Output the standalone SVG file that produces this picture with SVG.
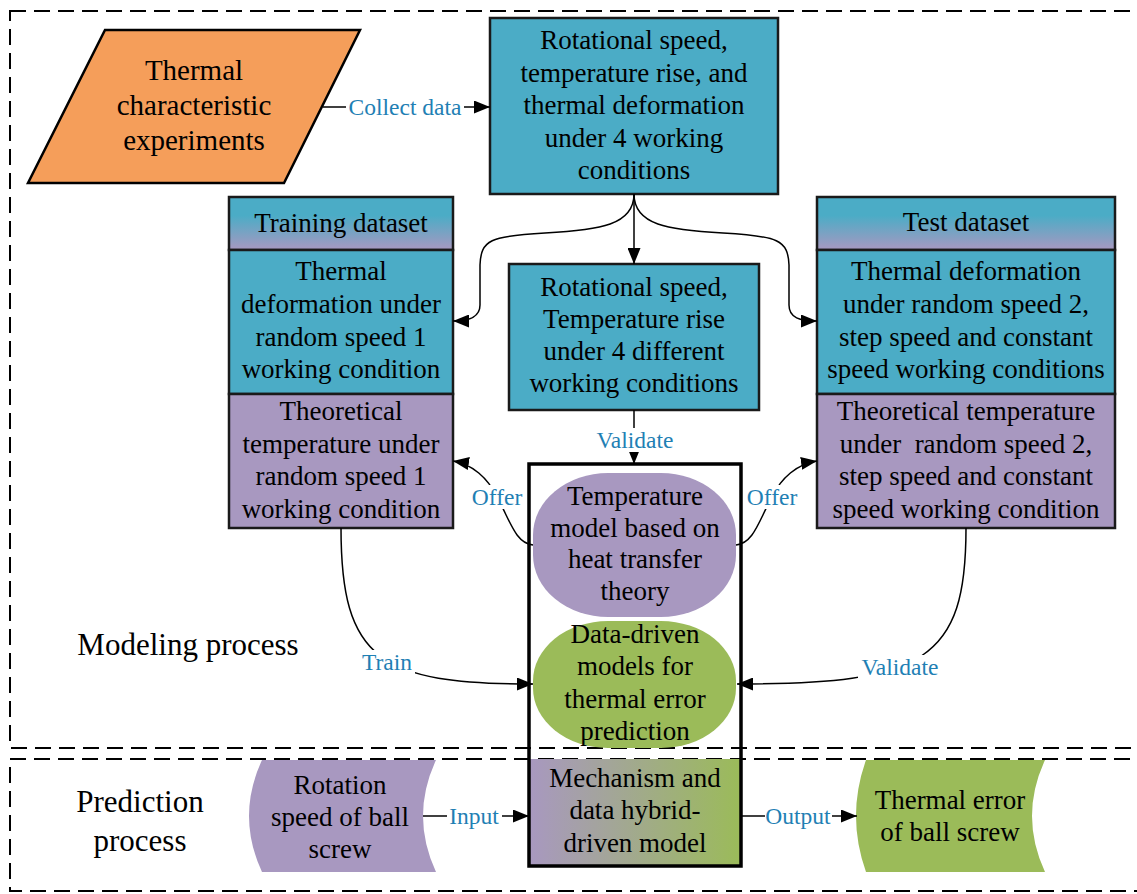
<svg xmlns="http://www.w3.org/2000/svg" width="1137" height="894" viewBox="0 0 1137 894">
<defs>
<style>
.t{font-family:"Liberation Serif","Times New Roman",serif;font-size:27px;fill:#000;text-anchor:middle}
.big{font-size:29px}
.sec{font-family:"Liberation Serif","Times New Roman",serif;font-size:31px;fill:#000;text-anchor:middle}
.lb{font-family:"Liberation Serif","Times New Roman",serif;font-size:23.5px;fill:#1F80B4;text-anchor:middle}
.box{stroke:#1a1a1a;stroke-width:2.5}
.teal{fill:#4BACC6}
.purple{fill:#A898C0}
.green{fill:#9BBB59}
.dash{fill:none;stroke:#000;stroke-width:2;stroke-dasharray:16 8}
.con{fill:none;stroke:#000;stroke-width:1.5}
.bg{fill:#fff}
</style>
<linearGradient id="hdr" x1="0" y1="0" x2="0" y2="1">
<stop offset="0" stop-color="#4BACC6"/>
<stop offset="0.35" stop-color="#4BACC6"/>
<stop offset="1" stop-color="#A898C0"/>
</linearGradient>
<linearGradient id="mix" x1="0" y1="0" x2="1" y2="0">
<stop offset="0" stop-color="#A898C0"/>
<stop offset="1" stop-color="#9BBB59"/>
</linearGradient>
<marker id="ah" viewBox="0 0 16 13" refX="16" refY="6.5" markerWidth="16" markerHeight="13" markerUnits="userSpaceOnUse" orient="auto">
<path d="M0,0 L16,6.5 L0,13 Z" fill="#000"/>
</marker>
</defs>
<rect width="1137" height="894" fill="#fff"/>

<g id="regions">
<rect class="dash" x="10" y="11" width="1140" height="737"/>
<rect class="dash" x="10" y="759" width="1140" height="132"/>
<text class="sec" x="188" y="655">Modeling process</text>
<text class="sec" x="140" y="812">Prediction</text>
<text class="sec" x="140" y="851">process</text>
</g>

<g id="experiments">
<path d="M105,30 L360,30 L284,183 L28,183 Z" fill="#F59E5A" stroke="#000" stroke-width="2.5"/>
<text class="t big" x="194" y="80">Thermal</text>
<text class="t big" x="194" y="115">characteristic</text>
<text class="t big" x="194" y="150">experiments</text>
</g>

<g id="all-data">
<rect class="box teal" x="490" y="18" width="288" height="176"/>
<text class="t" x="634" y="49">Rotational speed,</text>
<text class="t" x="634" y="81.5">temperature rise, and</text>
<text class="t" x="634" y="114">thermal deformation</text>
<text class="t" x="634" y="146.5">under 4 working</text>
<text class="t" x="634" y="179">conditions</text>
</g>

<g id="training">
<rect class="box" x="229" y="197" width="224" height="53" fill="url(#hdr)"/>
<rect class="box teal" x="229" y="250" width="224" height="144"/>
<rect class="box purple" x="229" y="394" width="224" height="134"/>
<text class="t" x="341" y="232">Training dataset</text>
<text class="t" x="341" y="280">Thermal</text>
<text class="t" x="341" y="313">deformation under</text>
<text class="t" x="341" y="346">random speed 1</text>
<text class="t" x="341" y="378">working condition</text>
<text class="t" x="341" y="420">Theoretical</text>
<text class="t" x="341" y="453">temperature under</text>
<text class="t" x="341" y="485">random speed 1</text>
<text class="t" x="341" y="518">working condition</text>
</g>

<g id="test">
<rect class="box" x="817" y="197" width="298" height="53" fill="url(#hdr)"/>
<rect class="box teal" x="817" y="250" width="298" height="144"/>
<rect class="box purple" x="817" y="394" width="298" height="134"/>
<text class="t" x="966" y="231">Test dataset</text>
<text class="t" x="966" y="280">Thermal deformation</text>
<text class="t" x="966" y="313">under random speed 2,</text>
<text class="t" x="966" y="346">step speed and constant</text>
<text class="t" x="966" y="378">speed working conditions</text>
<text class="t" x="966" y="420">Theoretical temperature</text>
<text class="t" x="966" y="453" xml:space="preserve">under  random speed 2,</text>
<text class="t" x="966" y="485">step speed and constant</text>
<text class="t" x="966" y="518">speed working condition</text>
</g>

<g id="speed-temp">
<rect class="box teal" x="509" y="264" width="250" height="146"/>
<text class="t" x="634" y="296">Rotational speed,</text>
<text class="t" x="634" y="328">Temperature rise</text>
<text class="t" x="634" y="360">under 4 different</text>
<text class="t" x="634" y="392">working conditions</text>
</g>

<g id="temperature-model">
<rect class="purple" x="533" y="473" width="203" height="144" rx="75" ry="62"/>
<text class="t" x="635" y="505">Temperature</text>
<text class="t" x="635" y="537">model based on</text>
<text class="t" x="635" y="568">heat transfer</text>
<text class="t" x="635" y="600">theory</text>
</g>

<g id="data-driven">
<rect class="green" x="533" y="621" width="203" height="127" rx="75" ry="60"/>
<text class="t" x="635" y="643">Data-driven</text>
<text class="t" x="635" y="675">models for</text>
<text class="t" x="635" y="708">thermal error</text>
<text class="t" x="635" y="740">prediction</text>
</g>

<g id="hybrid">
<rect x="529" y="759" width="212" height="107" fill="url(#mix)"/>
<rect x="529" y="464" width="212" height="402" fill="none" stroke="#000" stroke-width="3.5"/>
<text class="t" x="635" y="787">Mechanism and</text>
<text class="t" x="635" y="819">data hybrid-</text>
<text class="t" x="635" y="852">driven model</text>
</g>

<g id="rotation-speed">
<path d="M262,760 L436,760 Q410,816 436,872 L262,872 Q236,816 262,760 Z" class="purple"/>
<text class="t" x="340" y="794">Rotation</text>
<text class="t" x="340" y="826">speed of ball</text>
<text class="t" x="340" y="858">screw</text>
</g>

<g id="thermal-error">
<path d="M866,760 L1045,760 Q1019,816 1045,872 L866,872 Q846,816 866,760 Z" class="green"/>
<text class="t" x="950" y="809">Thermal error</text>
<text class="t" x="950" y="841">of ball screw</text>
</g>

<g id="connectors">
<path class="con" d="M323,107 L490,107" marker-end="url(#ah)"/>
<path class="con" d="M634,194 L634,264" marker-end="url(#ah)"/>
<path class="con" d="M634,194 C634,225 600,230 545,233 C490,236 481,240 480,265 L480,305 C480,318 468,321 453,321" marker-end="url(#ah)"/>
<path class="con" d="M634,194 C634,225 668,230 723,233 C778,236 788,240 789,265 L789,305 C789,318 800,321 817,321" marker-end="url(#ah)"/>
<path class="con" d="M634,410 L634,464" marker-end="url(#ah)"/>
<path class="con" d="M533,545 C515,543 510,520 497,497 C488,478 472,464 453,461" marker-end="url(#ah)"/>
<path class="con" d="M736,545 C754,543 759,520 772,497 C781,478 797,464 817,461" marker-end="url(#ah)"/>
<path class="con" d="M341,528 C341,660 380,684 533,684" marker-end="url(#ah)"/>
<path class="con" d="M966,528 C966,660 925,684 737,684" marker-end="url(#ah)"/>
<path class="con" d="M423,816 L529,816" marker-end="url(#ah)"/>
<path class="con" d="M741,816 L857,816" marker-end="url(#ah)"/>
<rect class="bg" x="346" y="95" width="118" height="24"/>
<text class="lb" x="405" y="115">Collect data</text>
<rect class="bg" x="593" y="428" width="84" height="24"/>
<text class="lb" x="635" y="448">Validate</text>
<rect class="bg" x="470" y="485" width="54" height="24"/>
<text class="lb" x="497" y="505">Offer</text>
<rect class="bg" x="745" y="485" width="54" height="24"/>
<text class="lb" x="772" y="505">Offer</text>
<rect class="bg" x="360" y="650" width="55" height="24"/>
<text class="lb" x="387" y="670">Train</text>
<rect class="bg" x="858" y="655" width="84" height="24"/>
<text class="lb" x="900" y="675">Validate</text>
<rect class="bg" x="447" y="804" width="55" height="24"/>
<text class="lb" x="474" y="824">Input</text>
<rect class="bg" x="765" y="804" width="67" height="24"/>
<text class="lb" x="798" y="824">Output</text>
</g>
</svg>
